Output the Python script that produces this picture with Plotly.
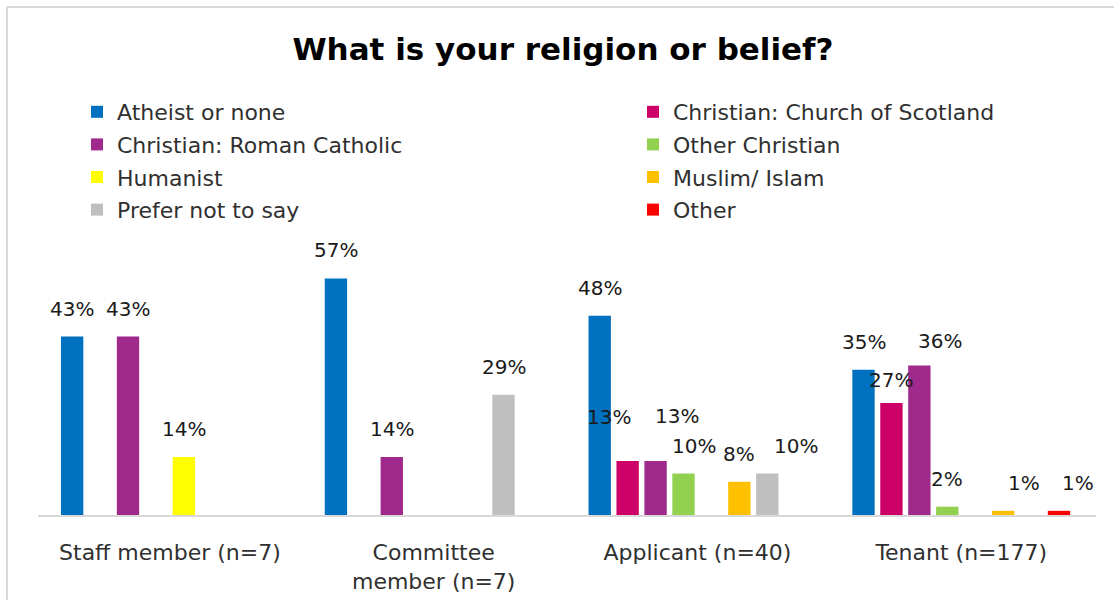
import plotly.graph_objects as go

# Respondent groups (x categories)
categories = ["Staff member (n=7)", "Committee<br>member (n=7)", "Applicant (n=40)", "Tenant (n=177)"]

# Percentage of each group giving each answer
atheist = [43, 57, 48, 35]
church_of_scotland = [0, 0, 13, 27]
roman_catholic = [43, 14, 13, 36]
other_christian = [0, 0, 10, 2]
humanist = [14, 0, 0, 0]
muslim = [0, 0, 8, 1]
prefer_not = [0, 29, 10, 0]
other = [0, 0, 0, 1]

series = [
    ("Atheist or none", atheist, "#0070C0", "legend"),
    ("Christian: Church of Scotland", church_of_scotland, "#CC0066", "legend2"),
    ("Christian: Roman Catholic", roman_catholic, "#A0298C", "legend"),
    ("Other Christian", other_christian, "#92D050", "legend2"),
    ("Humanist", humanist, "#FFFF00", "legend"),
    ("Muslim/ Islam", muslim, "#FFC000", "legend2"),
    ("Prefer not to say", prefer_not, "#BFBFBF", "legend"),
    ("Other", other, "#FF0000", "legend2"),
]

# Page geometry (pixels)
W, H = 1114, 600
ML, MR, MT, MB = 38, 18, 266, 85
PW, PH = W - ML - MR, H - MT - MB
Y_MAX = 60
BARGAP = 0.153
BARGROUPGAP = 0.2

FONT = "DejaVu Sans"
TEXT = "#303030"

# Hand nudges (px) for crowded data labels: (series index, category index) -> (dx, dy)
label_nudge = {
    (1, 2): (-19, 16),
    (2, 2): (21, 17),
    (3, 2): (10, 0),
    (6, 2): (29, 0),
    (1, 3): (0, -5),
    (2, 3): (21, -3),
    (5, 3): (21, 0),
    (7, 3): (19, 0),
}


def px_x(px):
    return (px - ML) / PW


def px_y(py):
    return (H - MB - py) / PH


fig = go.Figure()
for name, vals, color, leg in series:
    fig.add_trace(go.Bar(
        name=name, x=categories, y=vals,
        marker=dict(color=color, line=dict(width=0)),
        legend=leg, legendgroup=name, hoverinfo="skip",
    ))

# Value labels above each non-zero bar
n = len(series)
slot = (1 - BARGAP) / n
annotations = []
for si, (name, vals, color, leg) in enumerate(series):
    for ci, v in enumerate(vals):
        if v == 0:
            continue
        dx, dy = label_nudge.get((si, ci), (0, 0))
        annotations.append(dict(
            x=ci + (si - (n - 1) / 2) * slot, y=v, xref="x", yref="y",
            text=f"{v}%", showarrow=False, xanchor="center", yanchor="middle",
            xshift=dx, yshift=28 + dy,
            font=dict(family=FONT, size=20, color="#1a1a1a"),
        ))

legend_style = dict(
    orientation="v", xref="container", yref="container",
    xanchor="left", y=1 - 91 / H, yanchor="top",
    font=dict(family=FONT, size=22, color=TEXT),
    bgcolor="rgba(0,0,0,0)", tracegroupgap=1, itemclick=False,
)

fig.update_layout(
    width=W, height=H,
    margin=dict(l=ML, r=MR, t=MT, b=MB, autoexpand=False),
    paper_bgcolor="white", plot_bgcolor="white",
    barmode="group", bargap=BARGAP, bargroupgap=BARGROUPGAP,
    title=dict(
        text="<b>What is your religion or belief?</b>",
        x=563 / W, xref="container", xanchor="center",
        y=1 - 49 / H, yref="container", yanchor="middle",
        font=dict(family=FONT, size=31, color="#000000"),
    ),
    legend=dict(x=77 / W, **legend_style),
    legend2=dict(x=633 / W, **legend_style),
    xaxis=dict(
        showline=True, linecolor="#D9D9D9", linewidth=2,
        showgrid=False, ticks="", ticklabelstandoff=17, tickangle=0,
        automargin=False,
        tickfont=dict(family=FONT, size=22, color=TEXT),
        fixedrange=True,
    ),
    yaxis=dict(
        range=[0, Y_MAX], visible=False, showgrid=False, zeroline=False,
        automargin=False, fixedrange=True,
    ),
    annotations=annotations,
    shapes=[
        # chart frame: top and left edges
        dict(type="line", xref="paper", yref="paper",
             x0=px_x(7), x1=px_x(W + 5), y0=px_y(7), y1=px_y(7),
             line=dict(color="#D9D9D9", width=2)),
        dict(type="line", xref="paper", yref="paper",
             x0=px_x(7), x1=px_x(7), y0=px_y(7), y1=px_y(H + 5),
             line=dict(color="#D9D9D9", width=2)),
    ],
    showlegend=True,
)

fig.write_html("out.html")
